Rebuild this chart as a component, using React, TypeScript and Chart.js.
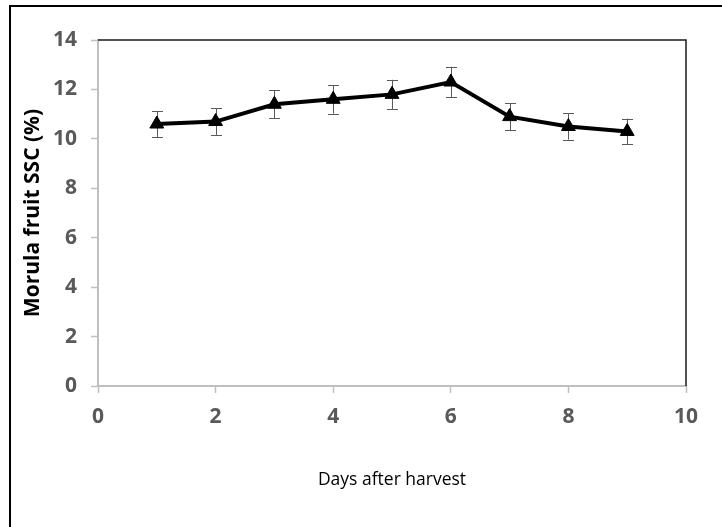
import React, { useEffect, useRef } from 'react';
import { Chart, registerables } from 'chart.js';

Chart.register(...registerables);

const days = [1, 2, 3, 4, 5, 6, 7, 8, 9];
const ssc = [10.6, 10.7, 11.4, 11.6, 11.8, 12.3, 10.9, 10.5, 10.3];
const sscErr = [0.53, 0.54, 0.57, 0.58, 0.59, 0.62, 0.55, 0.53, 0.52];
const xTitle = 'Days after harvest';
const yTitle = 'Morula fruit SSC (%)';
const xMin = 0;
const xMax = 10;
const xStep = 2;
const yMin = 0;
const yMax = 14;
const yStep = 2;

const errorBarPlugin = {
  id: 'errorBars',
  beforeDatasetsDraw(chart: any) {
    const { ctx, scales } = chart;
    const xs = scales.x;
    const ys = scales.y;
    ctx.save();
    ctx.strokeStyle = '#595959';
    ctx.lineWidth = 1;
    days.forEach((d, i) => {
      const px = Math.round(xs.getPixelForValue(d)) + 0.5;
      const top = ys.getPixelForValue(ssc[i] + sscErr[i]);
      const bot = ys.getPixelForValue(ssc[i] - sscErr[i]);
      ctx.beginPath();
      ctx.moveTo(px, top);
      ctx.lineTo(px, bot);
      ctx.moveTo(px - 5.5, Math.round(top) + 0.5);
      ctx.lineTo(px + 5.5, Math.round(top) + 0.5);
      ctx.moveTo(px - 5.5, Math.round(bot) + 0.5);
      ctx.lineTo(px + 5.5, Math.round(bot) + 0.5);
      ctx.stroke();
    });
    ctx.restore();
  },
};

const framePlugin = {
  id: 'frames',
  afterDraw(chart: any) {
    const { ctx, chartArea } = chart;
    ctx.save();
    ctx.strokeStyle = '#000000';
    ctx.lineWidth = 2;
    ctx.beginPath();
    ctx.moveTo(10, 527);
    ctx.lineTo(10, 6);
    ctx.lineTo(722, 6);
    ctx.stroke();
    ctx.lineWidth = 1.5;
    ctx.strokeStyle = '#1a1a1a';
    ctx.beginPath();
    ctx.moveTo(chartArea.left, chartArea.top);
    ctx.lineTo(chartArea.right, chartArea.top);
    ctx.lineTo(chartArea.right, chartArea.bottom);
    ctx.stroke();
    ctx.restore();
  },
};

export default function App() {
  const ref = useRef<HTMLCanvasElement | null>(null);

  useEffect(() => {
    if (!ref.current) return;
    const chart = new Chart(ref.current, {
      type: 'line',
      data: {
        datasets: [
          {
            data: days.map((d, i) => ({ x: d, y: ssc[i] })),
            borderColor: '#000000',
            backgroundColor: '#000000',
            borderWidth: 4,
            pointStyle: 'triangle',
            pointRadius: 8,
            pointBorderWidth: 1,
            pointBackgroundColor: '#000000',
            pointBorderColor: '#000000',
            tension: 0,
          },
        ],
      },
      options: {
        animation: false,
        responsive: false,
        devicePixelRatio: 1,
        layout: { padding: { top: 40, right: 36, left: 0, bottom: 0 } },
        plugins: {
          legend: { display: false },
          tooltip: { enabled: false },
        },
        scales: {
          x: {
            type: 'linear',
            min: xMin,
            max: xMax,
            afterFit: (s: any) => {
              s.height = 141;
            },
            ticks: {
              stepSize: xStep,
              color: '#595959',
              padding: 11,
              font: { family: 'Open Sans', size: 21, weight: 'bold' },
            },
            grid: {
              display: true,
              drawOnChartArea: false,
              drawTicks: true,
              tickLength: 7,
              tickColor: '#bfbfbf',
              tickWidth: 1.5,
            },
            border: { display: true, color: '#bfbfbf', width: 2 },
            title: {
              display: true,
              text: xTitle,
              color: '#000000',
              font: { family: 'Open Sans', size: 17.5, weight: 'normal' },
              padding: { top: 4, bottom: 36 },
            },
          },
          y: {
            type: 'linear',
            min: yMin,
            max: yMax,
            afterFit: (s: any) => {
              s.width = 98;
            },
            ticks: {
              stepSize: yStep,
              color: '#595959',
              padding: 14,
              font: { family: 'Open Sans', size: 21, weight: 'bold' },
            },
            grid: {
              display: true,
              drawOnChartArea: false,
              drawTicks: true,
              tickLength: 7,
              tickColor: '#bfbfbf',
              tickWidth: 1.5,
            },
            border: { display: true, color: '#bfbfbf', width: 2 },
            title: {
              display: true,
              text: yTitle,
              color: '#000000',
              font: { family: 'Open Sans', size: 21, weight: 'bold' },
              padding: { top: 20, bottom: 4 },
            },
          },
        },
      },
      plugins: [errorBarPlugin, framePlugin],
    });
    return () => chart.destroy();
  }, []);

  return (
    <div style={{ position: 'absolute', left: 0, top: 0, width: 722, height: 527, background: '#ffffff' }}>
      <canvas ref={ref} width={722} height={527} style={{ display: 'block' }} />
    </div>
  );
}
